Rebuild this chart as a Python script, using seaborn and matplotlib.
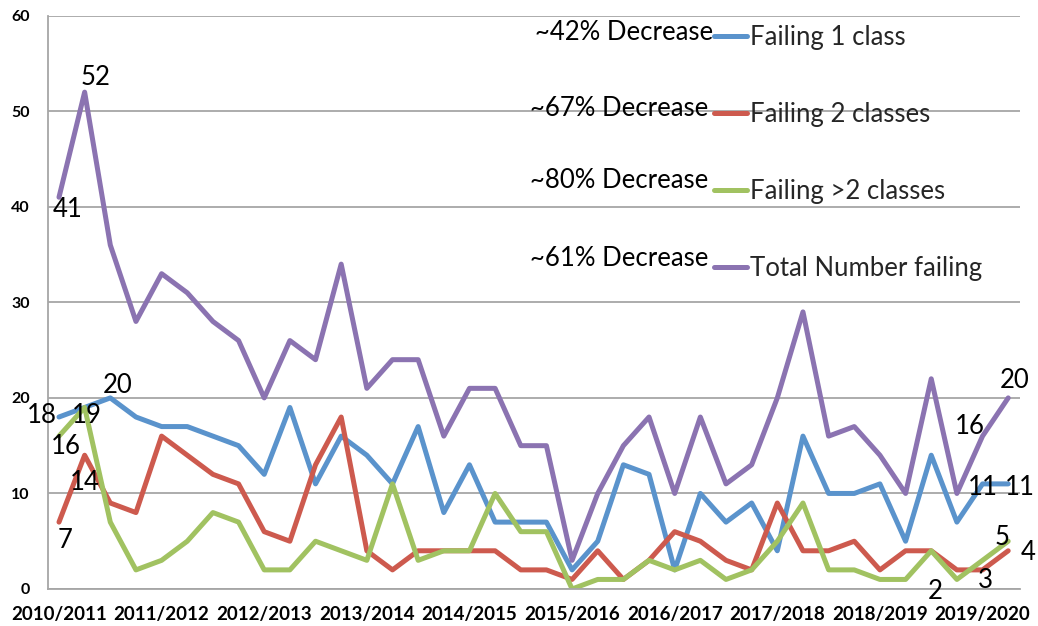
import numpy as np
import pandas as pd
import matplotlib
matplotlib.use("Agg")
import matplotlib.pyplot as plt
from matplotlib.ticker import FixedLocator
import seaborn as sns

# ---------------- data ----------------
year_labels = ["2010/2011", "2011/2012", "2012/2013", "2013/2014", "2014/2015",
               "2015/2016", "2016/2017", "2017/2018", "2018/2019", "2019/2020"]

failing_1 = [18, 19, 20, 18, 17, 17, 16, 15, 12, 19, 11, 16,
             14, 11, 17, 8, 13, 7, 7, 7, 2, 5, 13, 12, 2,
             10, 7, 9, 4, 16, 10, 10, 11, 5, 14, 7, 11, 11]
failing_2 = [7, 14, 9, 8, 16, 14, 12, 11, 6, 5, 13, 18,
             4, 2, 4, 4, 4, 4, 2, 2, 1, 4, 1, 3, 6,
             5, 3, 2, 9, 4, 4, 5, 2, 4, 4, 2, 2, 4]
failing_3 = [16, 19, 7, 2, 3, 5, 8, 7, 2, 2, 5, 4,
             3, 11, 3, 4, 4, 10, 6, 6, 0, 1, 1, 3, 2,
             3, 1, 2, 5, 9, 2, 2, 1, 1, 4, 1, 3, 5]
total = [41, 52, 36, 28, 33, 31, 28, 26, 20, 26, 24, 34,
         21, 24, 24, 16, 21, 21, 15, 15, 3, 10, 15, 18, 10,
         18, 11, 13, 20, 29, 16, 17, 14, 10, 22, 10, 16, 20]

series_names = ["Failing 1 class", "Failing 2 classes", "Failing >2 classes", "Total Number failing"]
decrease_labels = ["~42% Decrease", "~67% Decrease", "~80% Decrease", "~61% Decrease"]
colors = ["#5A93CC", "#CD5A4E", "#A1C261", "#8B73B1"]

# data labels: (series index, point index, text, dx px, dy px)
data_labels = [
    (3, 0, "41", 9, 12), (3, 1, "52", 11, -15),
    (0, 0, "18", -17, -2), (2, 1, "19", 2, 8), (0, 2, "20", 7, -12),
    (2, 0, "16", 7, 10), (1, 1, "14", 0, 27), (1, 0, "7", 6, 18),
    (3, 36, "16", -13, -10), (3, 37, "20", 6, -17),
    (0, 36, "11", 0, 4), (0, 37, "11", 12, 4),
    (2, 37, "5", -6, -4), (1, 37, "4", 20, 2),
    (2, 36, "3", 3, 20), (1, 35, "2", -22, 22),
]

values = [failing_1, failing_2, failing_3, total]
n = len(total)
df = pd.concat([pd.DataFrame({"idx": np.arange(n), "value": v, "series": s})
                for s, v in zip(series_names, values)], ignore_index=True)

# ---------------- style ----------------
sns.set_theme(style="white")
plt.rcParams["font.family"] = ["Lato", "DejaVu Sans"]

W, H = 1038, 626
fig = plt.figure(figsize=(W / 100, H / 100), dpi=100)
ax = fig.add_axes([47.7 / W, 1 - 589 / H, (1020 - 47.7) / W, (589 - 15.7) / H])

sns.lineplot(data=df, x="idx", y="value", hue="series", hue_order=series_names,
             palette=dict(zip(series_names, colors)), linewidth=3.6,
             solid_joinstyle="round", solid_capstyle="round", ax=ax)

ax.set_xlim(-0.44, n - 1 + 0.46)
ax.set_ylim(0, 60)
ax.set_xlabel("")
ax.set_ylabel("")

grid_c = "#A6A6A6"
ax.set_yticks(range(0, 61, 10))
ax.yaxis.grid(True, color=grid_c, linewidth=1.3)
ax.xaxis.grid(False)
ax.set_axisbelow(True)
for s in ["top", "right"]:
    ax.spines[s].set_visible(False)
for s in ["left", "bottom"]:
    ax.spines[s].set_color(grid_c)
    ax.spines[s].set_linewidth(1.3)

ax.set_xticks(np.arange(0, n, 4))
ax.set_xticklabels(year_labels)
ax.xaxis.set_minor_locator(FixedLocator(np.arange(0.5, n, 1.0)))
ax.tick_params(axis="x", which="major", length=0, pad=12, labelsize=13.5)
ax.tick_params(axis="x", which="minor", length=5, width=1.3, color=grid_c, direction="out")
ax.tick_params(axis="y", length=5, width=1.3, color=grid_c, direction="out", pad=8, labelsize=11.5)
for t in ax.get_xticklabels() + ax.get_yticklabels():
    t.set_fontweight("bold")
    t.set_color("black")

# legend
handles, labels = ax.get_legend_handles_labels()
ax.legend(handles, labels, loc="upper left", bbox_to_anchor=(714 / W, 1 - 25 / H),
          bbox_transform=fig.transFigure, frameon=False, fontsize=18.5,
          handlelength=1.3, handletextpad=0.12, labelspacing=2.03,
          borderpad=0, borderaxespad=0)

# decrease annotations
dec_pos = [(713, 32), (708, 109), (708, 180), (708, 259)]
for txt, (px, py) in zip(decrease_labels, dec_pos):
    fig.text(px / W, 1 - py / H, txt, ha="right", va="center", fontsize=18.5, color="black")

# data labels
for si, pi, txt, dx, dy in data_labels:
    ax.annotate(txt, xy=(pi, values[si][pi]), xytext=(dx * 0.72, -dy * 0.72),
                textcoords="offset points", ha="center", va="center",
                fontsize=18.5, color="black", annotation_clip=False)

fig.savefig("out.png", dpi=100)
